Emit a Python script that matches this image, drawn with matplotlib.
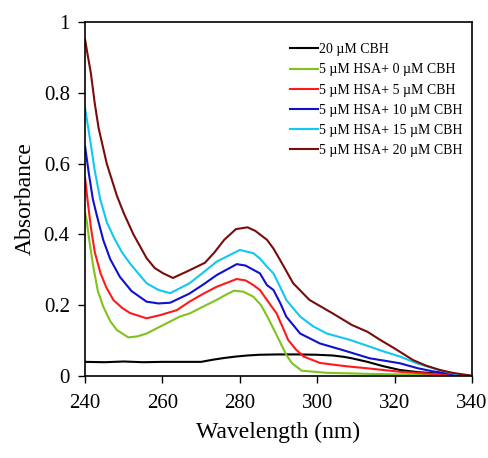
import numpy as np
import matplotlib
matplotlib.use("Agg")
import matplotlib.pyplot as plt

plt.rcParams['font.family'] = ['Liberation Serif', 'DejaVu Serif']

wl_black = [240, 245, 250, 255, 260, 265, 270, 273, 276, 279, 282, 285, 290, 295, 300, 304, 307, 309, 311, 313, 317, 321.4, 326, 330, 334, 338, 340]
a_black = [0.040, 0.039, 0.041, 0.039, 0.040, 0.040, 0.040, 0.046, 0.051, 0.055, 0.058, 0.060, 0.061, 0.061, 0.060, 0.058, 0.054, 0.050, 0.045, 0.040, 0.028, 0.017, 0.011, 0.008, 0.005, 0.002, 0.0]

wl_green = [240, 240.4, 241, 242.1, 243.3, 244.7, 246.5, 248.2, 251.2, 253.5, 255.9, 260.2, 264.5, 267.1, 270.5, 274, 276.5, 278.5, 281, 283.5, 285.5, 287.5, 290, 292, 293.5, 296, 302.5, 313.6, 325, 340]
a_green = [0.46, 0.44, 0.39, 0.31, 0.24, 0.196, 0.155, 0.13, 0.109, 0.112, 0.12, 0.144, 0.168, 0.177, 0.196, 0.215, 0.230, 0.241, 0.238, 0.224, 0.20, 0.16, 0.105, 0.06, 0.036, 0.015, 0.009, 0.006, 0.004, 0.0]

wl_red = [240, 240.6, 241.5, 242.5, 244, 245.5, 247.3, 249.5, 251.6, 255.9, 259.4, 263.7, 267, 270.5, 274, 279.2, 281.5, 283.5, 285.2, 287, 289.5, 291, 292.5, 294.5, 296.5, 300.7, 304.2, 308, 312.8, 321.4, 330, 340]
a_red = [0.56, 0.50, 0.42, 0.35, 0.29, 0.25, 0.215, 0.193, 0.178, 0.163, 0.172, 0.186, 0.21, 0.232, 0.252, 0.274, 0.270, 0.257, 0.243, 0.215, 0.177, 0.14, 0.102, 0.075, 0.055, 0.037, 0.032, 0.027, 0.022, 0.012, 0.006, 0.0]

wl_blue = [240, 241, 242, 243, 244.7, 246.5, 249, 252, 255.9, 259, 262, 267, 270.5, 274, 279.2, 281.5, 283.5, 285.2, 287, 288.7, 290.5, 292, 295.6, 300.7, 306.7, 313.6, 317, 321.4, 326, 330, 334, 337, 340]
a_blue = [0.648, 0.57, 0.50, 0.455, 0.384, 0.33, 0.28, 0.24, 0.21, 0.205, 0.207, 0.233, 0.258, 0.285, 0.316, 0.312, 0.30, 0.29, 0.257, 0.243, 0.205, 0.168, 0.12, 0.092, 0.073, 0.05, 0.044, 0.036, 0.022, 0.013, 0.007, 0.002, 0.0]

wl_cyan = [240, 241.3, 242.5, 243.9, 245.6, 247.5, 249.5, 251.6, 255.9, 259, 262, 267, 270.5, 274, 280, 283.5, 285.2, 287, 288.7, 290.5, 292, 295.6, 299, 302.5, 308.5, 313.6, 317, 321.4, 326, 330, 334, 337, 340]
a_cyan = [0.757, 0.667, 0.58, 0.50, 0.435, 0.39, 0.35, 0.318, 0.262, 0.243, 0.234, 0.262, 0.292, 0.323, 0.356, 0.347, 0.332, 0.309, 0.29, 0.25, 0.215, 0.168, 0.14, 0.12, 0.102, 0.083, 0.07, 0.055, 0.035, 0.022, 0.01, 0.003, 0.0]

wl_brown = [240, 240.7, 241.5, 242.5, 243.5, 245.6, 248.2, 250, 252.5, 255.9, 258, 260.2, 262.7, 266.3, 271, 273.5, 276, 279, 282, 284, 287, 288.7, 290.4, 293.8, 298, 304, 309, 313, 316, 320, 324.8, 328, 331.7, 335, 338.7, 340]
a_brown = [0.95, 0.905, 0.855, 0.77, 0.70, 0.60, 0.51, 0.46, 0.40, 0.333, 0.305, 0.29, 0.277, 0.295, 0.32, 0.35, 0.385, 0.415, 0.42, 0.41, 0.385, 0.36, 0.328, 0.262, 0.215, 0.177, 0.144, 0.125, 0.104, 0.078, 0.045, 0.03, 0.017, 0.009, 0.003, 0.0]

labels = ["20 \u00b5M CBH", "5 \u00b5M HSA+ 0 \u00b5M CBH", "5 \u00b5M HSA+ 5 \u00b5M CBH",
          "5 \u00b5M HSA+ 10 \u00b5M CBH", "5 \u00b5M HSA+ 15 \u00b5M CBH", "5 \u00b5M HSA+ 20 \u00b5M CBH"]
colors = ['black', '#7fc31c', '#ff1a1a', '#1010d0', '#10c8f0', '#7b0c0c']

series = [(wl_black, a_black), (wl_green, a_green), (wl_red, a_red),
          (wl_blue, a_blue), (wl_cyan, a_cyan), (wl_brown, a_brown)]

fig = plt.figure(figsize=(4.89, 4.58), dpi=100)
ax = fig.add_axes([0.174, 0.179, 0.791, 0.773])

for i in range(len(series)):
    x, y = series[i]
    ax.plot(x, y, color=colors[i], linewidth=1.5, label=labels[i])

ax.set_xlim(240, 340)
ax.set_ylim(0, 1)
ax.set_xticks([240, 260, 280, 300, 320, 340])
ax.set_yticks([0, 0.2, 0.4, 0.6, 0.8, 1])
ax.set_yticklabels(["0", "0.2", "0.4", "0.6", "0.8", "1"])
ax.tick_params(axis='both', direction='out', length=5, width=1, labelsize=15)
ax.tick_params(axis='y', pad=6)
ax.tick_params(axis='x', pad=8)
for sp in ax.spines.values():
    sp.set_linewidth(1.2)

ax.set_xlabel("Wavelength (nm)", fontsize=17, labelpad=6)
ax.set_ylabel("Absorbance", fontsize=17, labelpad=6)

ax.legend(loc='upper left', bbox_to_anchor=(0.53, 0.94), frameon=False,
          fontsize=10, handlelength=2.0, handletextpad=0.1, labelspacing=0.52,
          borderpad=0, borderaxespad=0)

plt.savefig("out.png", dpi=100)
